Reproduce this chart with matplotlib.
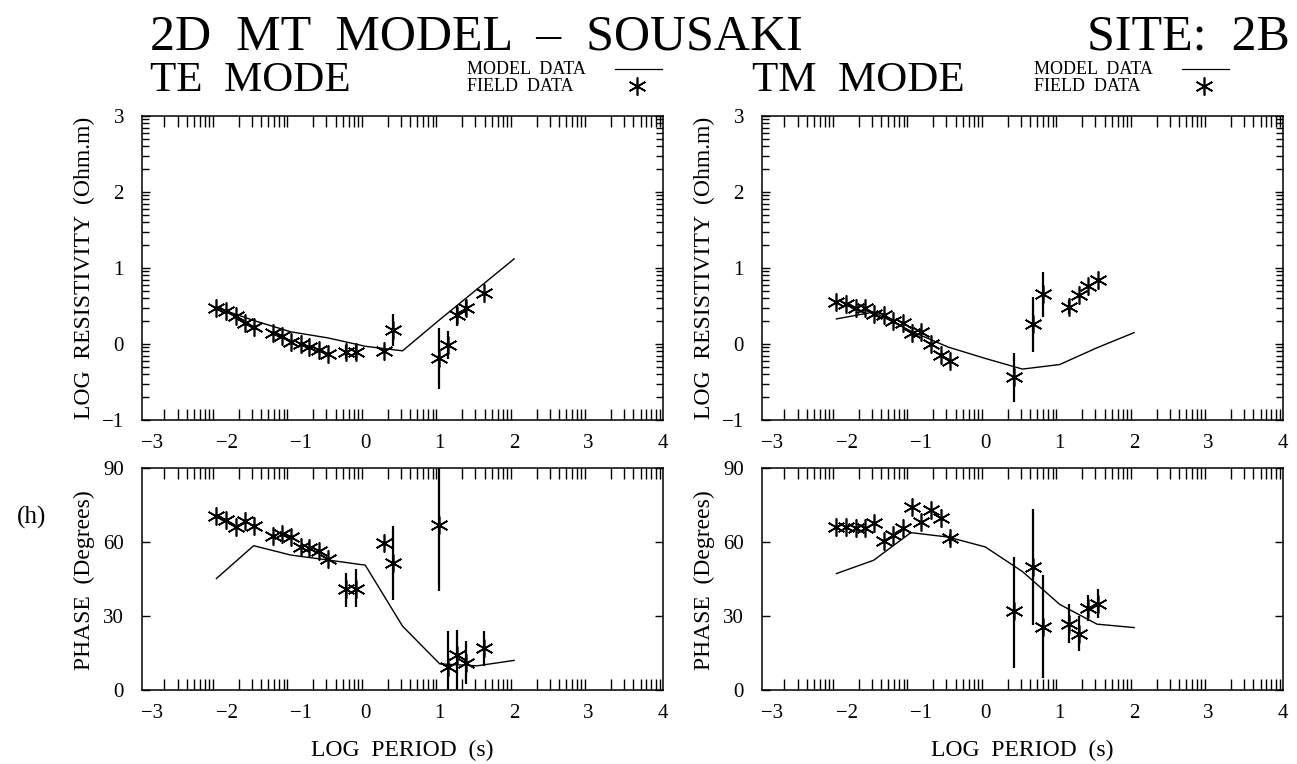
import numpy as np
import matplotlib.pyplot as plt
from matplotlib.lines import Line2D

plt.rcParams['font.family'] = ['Liberation Serif', 'DejaVu Serif']

W, H = 1297, 764

# ---- TE mode field data (log10 period in s) ----
te_period = [-2.0, -1.87, -1.74, -1.62, -1.49, -1.24, -1.12, -1.0, -0.87, -0.75, -0.62,
             -0.5, -0.26, -0.13, 0.25, 0.37, 0.99, 1.11, 1.23, 1.35, 1.6]
te_rho = [0.48, 0.44, 0.37, 0.28, 0.23, 0.15, 0.10, 0.03, 0.0, -0.04, -0.08,
          -0.13, -0.11, -0.10, -0.09, 0.18, -0.19, -0.01, 0.38, 0.48, 0.67]
te_rho_lo = [None] * 12 + [-0.20, -0.21, None, -0.03, -0.59, -0.20, 0.24, 0.37, None]
te_rho_hi = [None] * 12 + [-0.01, -0.01, None, 0.39, 0.21, 0.17, 0.51, 0.58, None]
te_phase = [70.5, 68.9, 65.9, 68.5, 66.5, 62.3, 63.2, 61.9, 58.0, 57.6, 56.5,
            53.3, 40.9, 40.9, 59.6, 51.3, 66.9, 9.5, 14.3, 10.9, 17.1]
te_phase_lo = [None] * 12 + [33.6, 33.6, None, 36.3, 40.3, 0.0, 0.0, 2.5, 9.8]
te_phase_hi = [None] * 12 + [47.6, 49.0, None, 66.5, 95.0, 23.9, 24.3, 20.0, 23.9]

# ---- TM mode field data ----
tm_period = [-2.0, -1.87, -1.74, -1.61, -1.49, -1.36, -1.24, -1.11, -0.99, -0.86,
             -0.73, -0.6, -0.47, 0.39, 0.64, 0.77, 1.13, 1.26, 1.38, 1.51]
tm_rho = [0.55, 0.52, 0.48, 0.47, 0.40, 0.38, 0.30, 0.28, 0.15, 0.16,
          0.0, -0.14, -0.22, -0.44, 0.26, 0.66, 0.49, 0.65, 0.76, 0.84]
tm_rho_lo = [None] * 13 + [-0.76, -0.10, 0.36, 0.40, None, None, None]
tm_rho_hi = [None] * 13 + [-0.12, 0.62, 0.95, 0.58, None, None, None]
tm_phase = [66.1, 66.1, 65.8, 65.8, 67.7, 60.3, 62.7, 65.7, 74.2, 68.1,
            72.8, 69.7, 61.6, 32.0, 50.0, 25.6, 26.9, 22.7, 33.1, 34.9]
tm_phase_lo = [None] * 12 + [59.3, 9.1, 26.4, 4.7, 18.9, 16.0, 28.0, 29.3]
tm_phase_hi = [None] * 12 + [63.4, 53.9, 73.5, 46.7, 34.7, 30.0, 38.7, 41.0]

# ---- 2D model responses ----
model_period = [-2.0, -1.5, -1.0, -0.5, 0.0, 0.5, 1.0, 1.5, 2.0]
te_model_rho = [0.48, 0.31, 0.16, 0.08, -0.03, -0.09, 0.32, 0.72, 1.12]
te_model_phase = [45.2, 58.5, 54.7, 52.7, 50.6, 25.9, 10.6, 9.8, 12.0]
tm_model_rho = [0.33, 0.42, 0.17, -0.04, -0.19, -0.33, -0.27, -0.05, 0.15]
tm_model_phase = [47.2, 52.6, 63.8, 62.0, 58.0, 48.0, 34.7, 26.7, 25.3]

x_ticks = list(range(-3, 5))
STAR = (6, 2, 0)


def fpos(x, y):
    # pixel position -> figure fraction
    return x / W, 1 - y / H


def log_minor(lo, hi):
    return [d + np.log10(k) for d in range(lo, hi) for k in range(2, 10)]


def x_label(t):
    # the original sets negative labels a little right of their tick,
    # a leading em space does the same here
    if t < 0:
        return '\u2003\u2212' + str(-t)
    return str(t)


def add_axes(x0, y0, x1, y1):
    return fig.add_axes([x0 / W, 1 - y1 / H, (x1 - x0) / W, (y1 - y0) / H])


def draw_panel(ax, period, val, lo, hi, mval, kind):
    ax.plot(model_period, mval, color='black', lw=1.0)
    keep = [i for i in range(len(period)) if lo[i] is not None]
    ax.vlines([period[i] for i in keep], [lo[i] for i in keep], [hi[i] for i in keep],
              color='black', lw=1.6)
    ax.plot(period, val, ls='none', marker=STAR, ms=13, mec='black', mew=1.2)

    ax.set_xlim(-3, 4)
    ax.set_xticks(x_ticks)
    ax.set_xticklabels([x_label(t) for t in x_ticks])
    ax.set_xticks(log_minor(-3, 4), minor=True)
    if kind == 'rho':
        ax.set_ylim(-1, 3)
        ax.set_yticks(range(-1, 4))
        ax.set_yticks(log_minor(-1, 3), minor=True)
    else:
        ax.set_ylim(0, 90)
        ax.set_yticks([0, 30, 60, 90])
        ax.set_yticks([], minor=True)

    ax.tick_params(which='both', direction='in', top=True, right=True,
                   labelsize=15, width=1.0)
    ax.tick_params(axis='x', which='major', length=0, pad=10)
    ax.tick_params(axis='x', which='minor', length=8)
    ax.tick_params(axis='y', which='major', length=6, pad=13)
    ax.tick_params(axis='y', which='minor', length=5)
    for s in ax.spines.values():
        s.set_linewidth(1.1)


fig = plt.figure(figsize=(W / 100, H / 100), dpi=100)

panels = [
    (142, 663, te_period, te_rho, te_rho_lo, te_rho_hi, te_model_rho,
     te_phase, te_phase_lo, te_phase_hi, te_model_phase),
    (762, 1283, tm_period, tm_rho, tm_rho_lo, tm_rho_hi, tm_model_rho,
     tm_phase, tm_phase_lo, tm_phase_hi, tm_model_phase),
]

for (x0, x1, per, rho, rlo, rhi, mrho, ph, plo, phi, mph) in panels:
    ax_r = add_axes(x0, 116, x1, 420)
    draw_panel(ax_r, per, rho, rlo, rhi, mrho, 'rho')
    ax_p = add_axes(x0, 468, x1, 690)
    draw_panel(ax_p, per, ph, plo, phi, mph, 'phase')

    xl = x0 - 58
    fig.text(*fpos(xl, 268), 'LOG  RESISTIVITY  (Ohm.m)', rotation=90,
             ha='center', va='center', fontsize=17)
    fig.text(*fpos(xl, 580), 'PHASE  (Degrees)', rotation=90,
             ha='center', va='center', fontsize=17)
    fig.text(*fpos((x0 + x1) / 2, 750), 'LOG  PERIOD  (s)',
             ha='center', va='center', fontsize=17)

# titles
fig.text(*fpos(150, 50), '2D  MT  MODEL  \u2013  SOUSAKI', fontsize=36,
         ha='left', va='baseline')
fig.text(*fpos(1290, 50), 'SITE:  2B', fontsize=36, ha='right', va='baseline')
fig.text(*fpos(150, 91), 'TE  MODE', fontsize=31, ha='left', va='baseline')
fig.text(*fpos(752, 91), 'TM  MODE', fontsize=31, ha='left', va='baseline')

# legends
for tx in (467, 1034):
    fig.text(*fpos(tx, 74), 'MODEL  DATA', fontsize=13, ha='left', va='baseline')
    fig.text(*fpos(tx, 91), 'FIELD  DATA', fontsize=13, ha='left', va='baseline')
    lx0, ly = fpos(tx + 148, 69)
    lx1, _ = fpos(tx + 195, 69)
    fig.add_artist(Line2D([lx0, lx1], [ly, ly], color='black', lw=0.9,
                          transform=fig.transFigure))
    sx, sy = fpos(tx + 170, 86)
    fig.add_artist(Line2D([sx], [sy], ls='none', marker=STAR, ms=13, mec='black',
                          mew=1.2, transform=fig.transFigure))

fig.text(*fpos(32, 517), '(h)', fontsize=18, ha='center', va='center')

fig.savefig('out.png', dpi=100, facecolor='white')
